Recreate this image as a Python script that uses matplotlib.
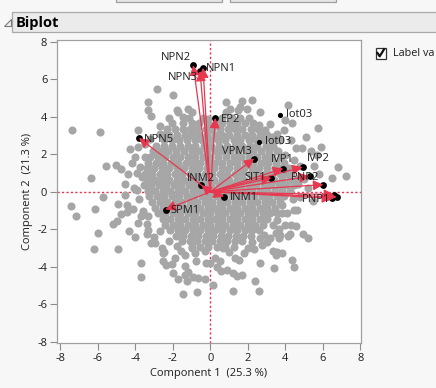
import matplotlib.pyplot as plt
import numpy as np
from matplotlib.patches import Rectangle, Polygon
from matplotlib.lines import Line2D

plt.rcParams['font.family'] = ['Open Sans', 'DejaVu Sans']

# --- data ----------------------------------------------------------------
# variable loadings (arrow tips), '' = unlabelled vector
var_names = ['NPN2', 'NPN1', 'NPN3', 'EP2', 'NPN5', 'INM2', 'SPM1', 'INM1',
             'VPM3', 'IVP1', 'IVP2', 'SIT1', 'PNP2', '', 'PNP1', '', '']
var_x = [-0.91, -0.39, -0.55, 0.27, -3.81, -0.48, -2.39, 0.73,
         2.34, 3.89, 4.92, 3.26, 6.03, 5.30, 6.74, 6.60, 6.50]
var_y = [6.75, 6.62, 6.45, 3.94, 2.87, 0.35, -0.95, -0.26,
         1.77, 1.24, 1.32, 0.74, 0.38, 0.83, -0.28, -0.15, -0.35]

# labelled observations
obs_names = ['lot03', 'lot03']
obs_x = [3.71, 2.58]
obs_y = [4.12, 2.66]

# dense core of the score cloud, row by row (y, then x values of that row)
core_y = [3.95, 3.65, 3.35, 3.05, 2.75, 2.45, 2.15, 1.85, 1.55, 1.25, 0.95, 0.65,
          0.35, 0.05, -0.25, -0.55, -0.85, -1.15, -1.45, -1.75, -2.05, -2.35, -2.65, -2.95]
core_x = [
    [-1.15, -0.4, 0.65, 1.15, 1.6, 2.05],
    [-2.05, -1.45, -1.0, -0.6, -0.15, 0.3, 0.6, 1.05, 1.4, 1.85, 2.3],
    [-2.3, -1.9, -1.45, -1.1, -0.7, -0.25, 0.1, 0.5, 0.95, 1.3, 1.7, 2.15, 2.55],
    [-2.55, -2.2, -1.8, -1.35, -1.0, -0.6, -0.2, 0.25, 0.6, 1.0, 1.45, 1.85, 2.25, 2.65, 3.0],
    [-2.45, -2.05, -1.65, -1.25, -0.8, -0.45, 0.0, 0.4, 0.8, 1.25, 1.6, 2.05, 2.45, 2.85, 3.3],
    [-2.9, -2.45, -2.05, -1.6, -1.2, -0.8, -0.35, 0.05, 0.45, 0.9, 1.3, 1.7, 2.1, 2.5, 2.95, 3.35],
    [-3.05, -2.65, -2.25, -1.85, -1.4, -1.0, -0.6, -0.2, 0.25, 0.65, 1.05, 1.5, 1.9, 2.3, 2.7, 3.15, 3.6],
    [-3.2, -2.8, -2.4, -2.0, -1.6, -1.2, -0.8, -0.4, 0.0, 0.4, 0.85, 1.25, 1.65, 2.05, 2.5, 2.9, 3.3, 3.75],
    [-3.3, -2.9, -2.5, -2.1, -1.7, -1.3, -0.95, -0.55, -0.15, 0.25, 0.65, 1.05, 1.45, 1.85, 2.3, 2.7, 3.1, 3.5, 3.95],
    [-3.4, -3.0, -2.6, -2.2, -1.8, -1.4, -1.0, -0.6, -0.2, 0.2, 0.6, 1.0, 1.4, 1.8, 2.2, 2.6, 3.0, 3.45, 3.85, 4.2],
    [-3.5, -3.1, -2.7, -2.3, -1.9, -1.5, -1.1, -0.7, -0.3, 0.1, 0.5, 0.9, 1.3, 1.7, 2.1, 2.5, 2.9, 3.3, 3.7, 4.1],
    [-3.4, -3.0, -2.6, -2.2, -1.8, -1.4, -1.0, -0.6, -0.2, 0.2, 0.6, 1.0, 1.4, 1.8, 2.2, 2.6, 3.0, 3.4, 3.8, 4.25],
    [-3.55, -3.15, -2.75, -2.35, -1.95, -1.55, -1.15, -0.75, -0.35, 0.05, 0.45, 0.85, 1.25, 1.65, 2.05, 2.45, 2.85, 3.25, 3.65, 4.05, 4.45],
    [-3.35, -2.95, -2.55, -2.15, -1.75, -1.35, -0.95, -0.55, -0.15, 0.25, 0.65, 1.05, 1.45, 1.85, 2.25, 2.65, 3.05, 3.45, 3.85, 4.25],
    [-3.25, -2.85, -2.45, -2.05, -1.65, -1.25, -0.85, -0.45, -0.05, 0.35, 0.75, 1.15, 1.55, 1.95, 2.35, 2.75, 3.15, 3.55, 3.95],
    [-3.1, -2.7, -2.3, -1.9, -1.5, -1.1, -0.7, -0.3, 0.1, 0.5, 0.9, 1.3, 1.7, 2.1, 2.5, 2.9, 3.3, 3.7],
    [-2.95, -2.55, -2.15, -1.75, -1.35, -0.95, -0.55, -0.15, 0.25, 0.65, 1.05, 1.45, 1.85, 2.25, 2.65, 3.05, 3.45],
    [-2.8, -2.4, -2.0, -1.6, -1.2, -0.8, -0.4, 0.0, 0.4, 0.8, 1.2, 1.6, 2.0, 2.4, 2.8, 3.2, 3.55],
    [-2.55, -2.15, -1.75, -1.35, -0.95, -0.55, -0.15, 0.25, 0.65, 1.05, 1.45, 1.85, 2.25, 2.65, 3.05],
    [-2.4, -2.0, -1.6, -1.2, -0.8, -0.4, 0.0, 0.4, 0.8, 1.2, 1.6, 2.0, 2.4, 2.8],
    [-2.15, -1.75, -1.35, -0.95, -0.55, -0.15, 0.25, 0.65, 1.05, 1.45, 1.85, 2.25, 2.6],
    [-1.85, -1.45, -1.05, -0.65, -0.25, 0.15, 0.55, 0.95, 1.35, 1.75, 2.15],
    [-1.5, -1.1, -0.7, -0.3, 0.1, 0.5, 0.9, 1.3, 1.7],
    [-1.0, -0.55, -0.1, 0.35, 0.8, 1.25],
]

# scattered points around the core (x, y)
outer_points = [
    # upper left
    (-7.38, 3.28), (-5.90, 3.19), (-2.83, 5.50), (-1.98, 5.15), (-3.32, 4.79), (-3.35, 4.38),
    (-1.80, 4.38), (-1.21, 4.40), (-0.96, 4.26), (-3.14, 4.03), (-2.19, 3.96), (-1.44, 3.99),
    (-1.73, 4.26), (-2.69, 3.53), (-3.85, 3.32), (-2.66, 3.10), (-4.29, 2.30), (-3.85, 2.39),
    (-4.03, 1.86), (-3.46, 1.86), (-2.96, 2.04), (-5.01, 1.41), (-5.55, 1.36), (-6.35, 0.76),
    (-4.74, 1.24), (-4.38, 0.97), (-3.76, 1.33), (-3.67, 0.79), (-4.56, 0.43), (-2.96, 0.61),
    (-4.05, 0.20), (-3.92, 1.02), (-4.20, 1.55), (-3.50, 2.55), (-3.20, 2.80), (-0.12, 3.90),
    # lower left
    (-7.42, -0.77), (-7.15, -1.31), (-6.17, -0.90), (-4.92, -0.65), (-4.47, -0.72), (-4.56, -0.19),
    (-5.72, -0.29), (-4.77, -1.18), (-4.47, -1.08), (-5.19, -1.72), (-4.96, -1.54), (-5.99, -2.20),
    (-6.22, -3.05), (-4.92, -3.08), (-4.35, -2.11), (-4.03, -2.41), (-3.85, -1.66), (-3.40, -1.72),
    (-3.31, -2.02), (-3.40, -2.25), (-3.14, -2.73), (-2.96, -2.73), (-3.71, -3.80), (-3.72, -4.56),
    (-2.46, -3.19), (-2.50, -3.71), (-2.34, -3.92), (-2.02, -3.85), (-1.89, -3.53), (-1.98, -4.33),
    (-1.75, -4.68), (-1.35, -3.97), (-1.35, -4.42), (-1.17, -4.28), (-1.26, -4.77), (-0.90, -4.56),
    (-0.64, -4.60), (-0.28, -4.68), (-1.48, -5.48), (-0.73, -5.34), (-0.76, -3.71), (-0.82, -3.26),
    (-1.35, -3.35), (-1.56, -3.17), (-2.52, -3.26), (-1.80, -2.91), (-1.00, -3.00), (-0.28, -3.17),
    (-0.24, -3.80), (-3.60, -1.00), (-3.80, -0.40), (-3.90, 0.10), (-3.30, -1.30), (-3.00, -2.40),
    (-2.70, -2.10), (-2.20, -2.60), (-2.60, -3.00), (-3.70, -1.30), (-4.10, -0.90),
    # lower right
    (3.83, -0.68), (3.83, -1.13), (4.10, -1.13), (4.46, -0.95), (4.60, -0.95), (4.01, -1.75),
    (4.28, -1.75), (4.55, -1.84), (4.24, -2.25), (4.13, -2.37), (4.96, -2.25), (5.21, -2.46),
    (3.65, -2.46), (3.48, -2.20), (3.35, -3.14), (3.57, -3.21), (3.83, -3.26), (3.48, -3.40),
    (4.37, -3.65), (4.46, -4.03), (3.39, -4.06), (2.67, -3.80), (2.37, -4.74), (2.58, -5.27),
    (1.21, -5.27), (0.14, -4.95), (1.69, -4.45), (1.43, -4.51), (1.21, -4.33), (0.89, -4.15),
    (0.59, -4.24), (0.36, -4.03), (1.52, -3.63), (1.34, -3.55), (1.78, -3.26), (0.53, -3.71),
    (0.27, -3.53), (0.00, -3.80), (2.32, -3.08), (2.76, -2.82), (2.67, -2.46), (2.85, -2.28),
    (3.20, -2.46), (3.74, -2.28), (3.65, -2.00), (3.35, -1.79), (3.57, -1.49), (2.00, -3.00),
    (1.00, -3.20), (0.70, -3.00), (2.20, -2.70), (3.00, -2.70), (4.40, -0.40), (4.80, -0.30),
    (5.20, 0.20), (5.50, -0.50), (5.00, 0.70), (4.70, 0.40),
    # upper right
    (2.23, 4.88), (1.69, 4.84), (1.60, 4.50), (1.96, 4.43), (1.07, 4.43), (2.64, 4.26),
    (0.86, 4.79), (0.86, 4.26), (1.48, 4.35), (0.59, 3.64), (4.15, 4.61), (4.01, 3.81),
    (4.37, 3.67), (5.74, 3.42), (5.13, 2.93), (4.31, 2.75), (4.55, 2.31), (4.90, 2.31),
    (5.88, 2.39), (5.35, 2.20), (5.67, 1.94), (6.81, 1.33), (7.22, 0.85), (3.92, 3.28),
    (3.57, 3.10), (3.74, 2.75), (3.30, 2.93), (3.12, 2.40), (3.57, 2.20), (4.01, 1.94),
    (4.46, 1.67), (4.78, 1.40), (5.52, 1.40), (5.79, 0.95), (6.50, 0.76), (2.90, 3.30),
    (2.60, 3.55), (3.20, 3.60), (4.30, 1.00), (4.60, 0.70),
]

# --- styling -------------------------------------------------------------
W, H = 436, 388
BG = '#f7f7f7'
RED = '#e8374f'
GRAY_PT = '#a6a6a6'
TXT = '#1e1e1e'

# label placement relative to the tip: (dx pt, dy pt, ha)
label_pos = {
    'NPN2': (-1.5, 5.4, 'right'), 'NPN1': (2.2, -0.9, 'left'), 'NPN3': (-1.4, -4.8, 'right'),
    'EP2': (4.3, -1.3, 'left'), 'NPN5': (3.8, -0.9, 'left'), 'INM2': (0, 4.8, 'center'),
    'SPM1': (3.6, -0.5, 'left'), 'INM1': (4.5, -0.5, 'left'), 'VPM3': (-1.9, 4.8, 'right'),
    'IVP1': (-0.5, 6.7, 'center'), 'IVP2': (2.9, 6.3, 'left'), 'SIT1': (-3.6, 0, 'right'),
    'PNP2': (-3.2, 4.8, 'right'), 'PNP1': (-4.8, -2.0, 'right'),
}


def px(x, y):
    """pixel position (from top-left) -> figure fraction"""
    return x / W, 1 - y / H


fig = plt.figure(figsize=(W / 100, H / 100), dpi=100, facecolor=BG)

# axes box: 57..361 px horizontally, 40..343 px vertically
ax = fig.add_axes([57 / W, 45 / H, 304 / W, 303 / H])
ax.set_facecolor('white')

# gray score cloud
cx = np.concatenate([np.array(row) for row in core_x])
cy = np.concatenate([np.full(len(row), yv) for row, yv in zip(core_x, core_y)])
ox = np.array([p[0] for p in outer_points])
oy = np.array([p[1] for p in outer_points])
ax.scatter(np.concatenate([cx, ox]), np.concatenate([cy, oy]), s=34, color=GRAY_PT,
           linewidths=0, zorder=2)

# dotted reference lines through the origin
ax.axvline(0, color=RED, lw=1.0, ls=(0, (1.6, 1.6)), zorder=1)
ax.axhline(0, color=RED, lw=1.0, ls=(0, (1.6, 1.6)), zorder=1)

# labelled observations
ax.scatter(obs_x, obs_y, s=14, color='black', linewidths=0, zorder=3)
for name, x, y in zip(obs_names, obs_x, obs_y):
    ax.annotate(name, (x, y), xytext=(4.5, 0), textcoords='offset points',
                ha='left', va='center', fontsize=8, color=TXT, zorder=6)

# loading vectors
ax.scatter(var_x, var_y, s=24, color='black', linewidths=0, zorder=4)
for name, x, y in zip(var_names, var_x, var_y):
    ax.annotate('', xy=(x, y), xytext=(0, 0),
                arrowprops=dict(arrowstyle='-|>,head_length=1.1,head_width=0.55',
                                color=RED, lw=0.9, mutation_scale=5.5,
                                shrinkA=0, shrinkB=0), zorder=5)
    if name:
        dx, dy, ha = label_pos[name]
        ax.annotate(name, (x, y), xytext=(dx, dy), textcoords='offset points',
                    ha=ha, va='center', fontsize=8, color=TXT, zorder=6)

ax.set_xlim(-8.18, 8.04)
ax.set_ylim(-8.07, 8.1)
ticks = [-8, -6, -4, -2, 0, 2, 4, 6, 8]
ax.set_xticks(ticks)
ax.set_yticks(ticks)
ax.set_xticklabels([str(t) for t in ticks])
ax.set_yticklabels([str(t) for t in ticks])
ax.tick_params(length=5, width=0.8, color='#8c8c8c', labelsize=8, labelcolor=TXT, pad=2)
for t in ax.xaxis.get_major_ticks() + ax.yaxis.get_major_ticks():
    if t.get_loc() == 0:
        t.tick1line.set_color(RED)
for sp in ax.spines.values():
    sp.set_color('#a0a0a0')
    sp.set_linewidth(0.9)

ax.set_xlabel('Component 1  (25.3 %)', fontsize=8, color=TXT, labelpad=3)
ax.set_ylabel('Component 2  (21.3 %)', fontsize=8, color=TXT, labelpad=3)

# --- surrounding JMP report chrome ---------------------------------------
# buttons cut off at the top
for x0, x1 in [(116, 222), (230, 336)]:
    fx, fy = px(x0, 2)
    fig.patches.append(Rectangle((fx, fy), (x1 - x0) / W, 10 / H, transform=fig.transFigure,
                                 facecolor='#e6e6e6', edgecolor='#a0a0a0', lw=0.9))

# outline header
fx, fy = px(12, 32)
fig.patches.append(Rectangle((fx, fy), 430 / W, 19.5 / H, transform=fig.transFigure,
                             facecolor='#ebebeb', edgecolor='#a9a9a9', lw=0.9))
tri = [px(10.5, 18.5), px(10.5, 25.5), px(3.5, 25.5)]
fig.patches.append(Polygon(tri, closed=True, transform=fig.transFigure,
                           facecolor='#f2f2f2', edgecolor='#7a7a7a', lw=0.8))
fig.text(*px(16, 22.5), 'Biplot', fontsize=10.5, fontweight='bold', color='black',
         ha='left', va='center')

# "Label values" check box
fx, fy = px(375.5, 59)
fig.patches.append(Rectangle((fx, fy), 10 / W, 11.5 / H, transform=fig.transFigure,
                             facecolor='white', edgecolor='#333333', lw=0.9))
ck = [px(377.5, 53), px(379.7, 56.3), px(384, 49.3)]
fig.lines.append(Line2D([p[0] for p in ck], [p[1] for p in ck], transform=fig.transFigure,
                        color='#111111', lw=1.6))
fig.text(*px(393, 53.5), 'Label va', fontsize=7.8, color=TXT, ha='left', va='center')

fig.savefig('out.png', dpi=100, facecolor=BG)
